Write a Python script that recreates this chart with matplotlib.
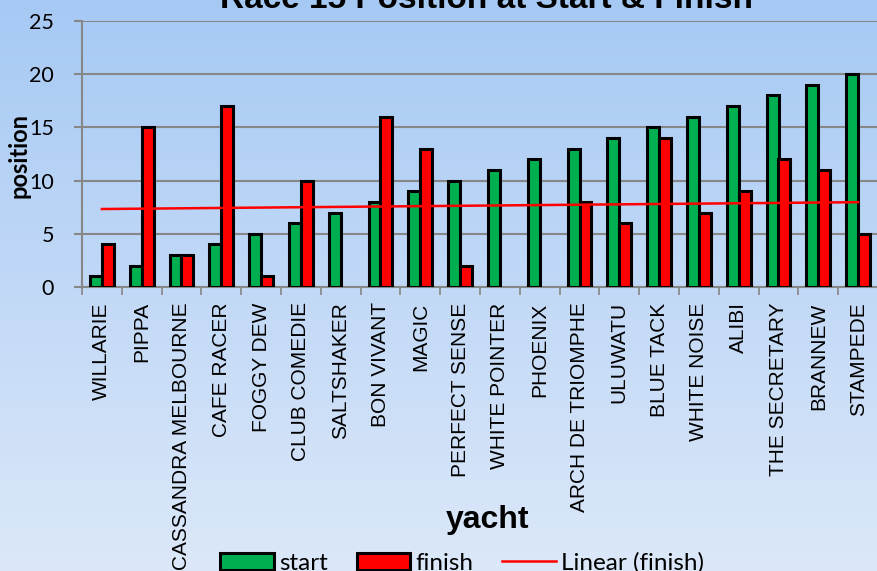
import numpy as np
import matplotlib.pyplot as plt
from matplotlib.colors import LinearSegmentedColormap

yachts = ["WILLARIE", "PIPPA", "CASSANDRA MELBOURNE", "CAFE RACER", "FOGGY DEW",
          "CLUB COMEDIE", "SALTSHAKER", "BON VIVANT", "MAGIC", "PERFECT SENSE",
          "WHITE POINTER", "PHOENIX", "ARCH DE TRIOMPHE", "ULUWATU", "BLUE TACK",
          "WHITE NOISE", "ALIBI", "THE SECRETARY", "BRANNEW", "STAMPEDE"]
start = [1, 2, 3, 4, 5, 6, 7, 8, 9, 10, 11, 12, 13, 14, 15, 16, 17, 18, 19, 20]
finish = [4, 15, 3, 17, 1, 10, None, 16, 13, 2, None, None, 8, 6, 14, 7, 9, 12, 11, 5]

W, H = 878, 571
fig = plt.figure(figsize=(W / 100, H / 100), dpi=100)

# background gradient
bg = fig.add_axes([0, 0, 1, 1], zorder=-10)
cmap = LinearSegmentedColormap.from_list("bg", ["#a6c9f4", "#dce8f9"])
bg.imshow(np.linspace(0, 1, 256).reshape(-1, 1), aspect="auto", cmap=cmap,
          extent=[0, 1, 0, 1])
bg.axis("off")

# plot area in pixels
left, right, top, bottom = 82, 878, 21, 287
ax = fig.add_axes([left / W, 1 - bottom / H, (right - left) / W, (bottom - top) / H])
ax.patch.set_alpha(0)

x = np.arange(len(yachts))
fin_bars = np.array([np.nan if v is None else v for v in finish], dtype=float)
bw = 0.3
h1 = ax.bar(x - bw / 2, start, bw, color="#00b050", edgecolor="black", linewidth=2.2,
            label="start", zorder=3)
h2 = ax.bar(x + bw / 2, fin_bars, bw, color="#ff0000", edgecolor="black", linewidth=2.2,
            label="finish", zorder=3)

# Excel linear trendline (blanks counted as zero)
fin_fit = np.nan_to_num(fin_bars)
k, b = np.polyfit(x + 1, fin_fit, 1)
h3, = ax.plot(x, k * (x + 1) + b, color="#ff0000", lw=1.8, label="Linear (finish)",
              zorder=4)

ax.set_ylim(0, 25)
ax.set_yticks([0, 5, 10, 15, 20, 25])
ax.set_xlim(-0.5, -0.5 + (right - left) / 40)
ax.set_xticks(x)
ax.set_xticklabels(yachts, rotation=90, fontsize=15, family="Liberation Sans")
ax.set_xticks(np.arange(-0.5, len(yachts), 1), minor=True)
ax.tick_params(axis="x", which="major", length=0, pad=11)
ax.tick_params(axis="x", which="minor", length=6, color="#878787", width=1.2)
ax.tick_params(axis="y", length=6, color="#878787", width=1.5, labelsize=15.5, pad=14,
               labelfontfamily="Lato")
ax.grid(axis="y", color="#878787", lw=1.5, zorder=0)
for s in ["top", "right"]:
    ax.spines[s].set_visible(False)
for s in ["left", "bottom"]:
    ax.spines[s].set_color("#878787")
    ax.spines[s].set_linewidth(1.5)

fig.text(19 / W, 1 - 155 / H, "position", fontsize=17, fontweight="bold", family="Lato",
         rotation=90, ha="center", va="center")
fig.text(488 / W, 1 - 528 / H, "yacht", fontsize=23, fontweight="bold",
         family="Liberation Sans", ha="center", va="baseline")
fig.text(487 / W, 1 - 8 / H, "Race 15 Position at Start & Finish", fontsize=24,
         fontweight="bold", family="Liberation Sans", ha="center", va="baseline")

fig.legend([h1, h2, h3], ["start", "finish", "Linear (finish)"], loc="center",
           bbox_to_anchor=(462 / W, 1 - 563 / H), ncol=3, frameon=False,
           prop={"family": "Lato", "size": 17.5}, handlelength=2.2, handleheight=0.72,
           handletextpad=0.2, columnspacing=1.2, borderpad=0)

fig.savefig("out.png", dpi=100)
